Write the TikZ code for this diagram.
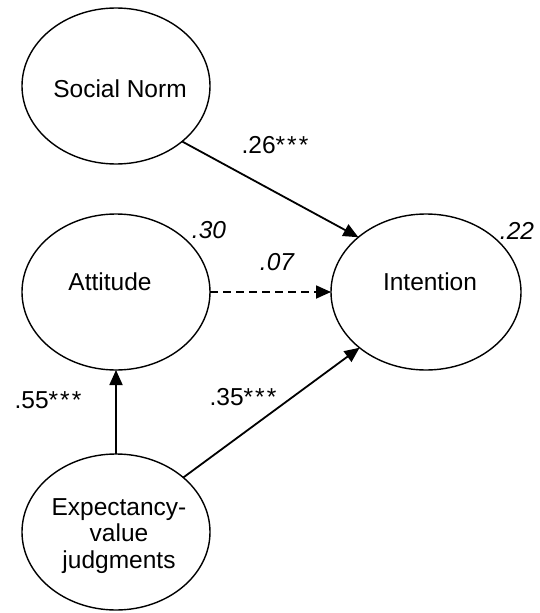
\documentclass[tikz,border=0pt]{standalone}
\usepackage{fontspec}
\setmainfont{Liberation Sans}
\usetikzlibrary{shapes.geometric,arrows.meta}
\begin{document}
\begin{tikzpicture}[x=1pt,y=-1pt,
  latent/.style={ellipse,draw,line width=1.4pt,minimum width=188pt,minimum height=156pt,inner sep=0pt,outer sep=0pt},
  txt/.style={anchor=base,inner sep=0pt,font=\fontsize{24.5}{26.5}\selectfont},
  coef/.style={anchor=base,inner sep=0pt,font=\fontsize{24.5}{27}\selectfont},
  rsq/.style={anchor=base,inner sep=0pt,font=\fontsize{24.5}{27}\selectfont\itshape},
  path/.style={line width=1.8pt,-{Triangle[length=15pt,width=13pt]}},
  nspath/.style={path,dash pattern=on 8pt off 5pt}
]
\useasboundingbox (0,0) rectangle (540,613);
\node[latent] (sn)  at (116,86) {};
\node[latent] (att) at (116,292) {};
\node[latent,minimum width=190pt] (int) at (426,292) {};
\node[latent] (evj) at (116,532) {};

\node[txt] (snt)  at (120,97)  {Social Norm};
\node[txt] (attt) at (110,290) {Attitude};
\node[txt] (intt) at (430,290) {Intention};
\node[txt,align=center] (evjt) at (119,568) {Expectancy-\\value\\judgments};

\draw[path] (sn.-40) -- (int.141);
\draw[nspath] (att.east) -- (int.west);
\draw[path] (evj.north) -- (att.south);
\draw[path] (evj.39) -- (int.220);

\node[coef] (c1) at (275,153) {.26*\kern2pt*\kern2pt*};
\node[coef] (c2) at (48,408)  {.55*\kern2pt*\kern2pt*};
\node[coef] (c3) at (243,405) {.35*\kern2pt*\kern2pt*};
\node[rsq] (r1) at (209,238) {.30};
\node[rsq] (c4) at (277,270) {.07};
\node[rsq] (r2) at (517,239) {.22};
\end{tikzpicture}
\end{document}
